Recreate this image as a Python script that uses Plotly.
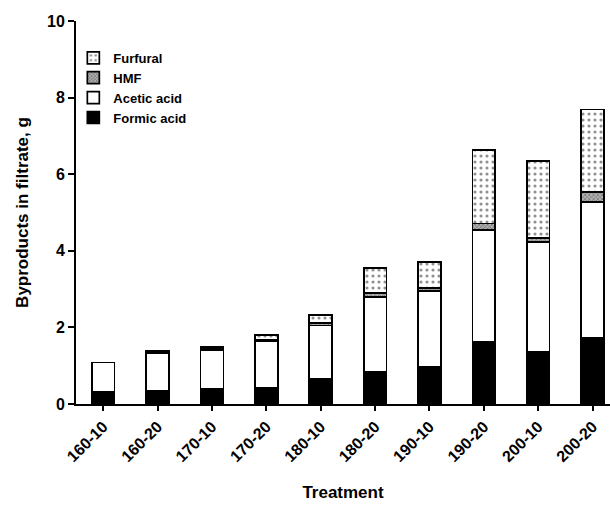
import plotly.graph_objects as go

# Treatment labels (temperature-time)
treatments = ["160-10", "160-20", "170-10", "170-20", "180-10",
              "180-20", "190-10", "190-20", "200-10", "200-20"]

# Byproduct masses in filtrate, g
formic_acid = [0.33, 0.35, 0.39, 0.43, 0.65, 0.85, 0.98, 1.61, 1.36, 1.74]
acetic_acid = [0.75, 0.97, 1.01, 1.22, 1.40, 1.95, 1.97, 2.94, 2.87, 3.54]
hmf         = [0.00, 0.02, 0.03, 0.03, 0.06, 0.09, 0.07, 0.16, 0.11, 0.26]
furfural    = [0.00, 0.05, 0.05, 0.12, 0.21, 0.66, 0.68, 1.93, 2.00, 2.15]

y_ticks = [0, 2, 4, 6, 8, 10]

FONT = "Liberation Sans, Arial, sans-serif"
line = dict(color="black", width=1.7)
bar_w = 0.42

fig = go.Figure()
fig.add_trace(go.Bar(
    name="Formic acid", x=treatments, y=formic_acid, width=bar_w,
    marker=dict(color="black", line=line)))
fig.add_trace(go.Bar(
    name="Acetic acid", x=treatments, y=acetic_acid, width=bar_w,
    marker=dict(color="white", line=line)))
fig.add_trace(go.Bar(
    name="HMF", x=treatments, y=hmf, width=bar_w,
    marker=dict(color="#8c8c8c", line=line,
                pattern=dict(shape="x", fgcolor="#3c3c3c", bgcolor="#b0b0b0",
                             size=3, solidity=0.45))))
fig.add_trace(go.Bar(
    name="Furfural", x=treatments, y=furfural, width=bar_w,
    marker=dict(color="white", line=line,
                pattern=dict(shape=".", fgcolor="#222222", bgcolor="white",
                             size=6, solidity=0.22))))

fig.update_layout(
    width=610, height=510,
    barmode="stack",
    paper_bgcolor="white", plot_bgcolor="white",
    margin=dict(l=76, r=0, t=21, b=106),
    font=dict(family=FONT, size=16, color="black", weight="bold"),
    showlegend=True,
    legend=dict(
        x=-0.005, y=0.943, xanchor="left", yanchor="top",
        traceorder="reversed",
        font=dict(family=FONT, size=13, color="black", weight="bold"),
        bgcolor="rgba(0,0,0,0)",
        itemwidth=30, tracegroupgap=0,
    ),
    xaxis=dict(
        range=[-0.5, 9.32],
        showline=True, linecolor="black", linewidth=2,
        ticks="outside", ticklen=5, tickwidth=1.5, tickcolor="black",
        tickangle=-45,
        tickfont=dict(family=FONT, size=16, color="black", weight="bold"),
        title=dict(text="Treatment", standoff=22,
                   font=dict(family=FONT, size=17, color="black", weight="bold")),
        showgrid=False, zeroline=False,
    ),
    yaxis=dict(
        range=[0, 10],
        tickvals=y_ticks,
        showline=True, linecolor="black", linewidth=2,
        ticks="outside", ticklen=6, tickwidth=1.5, tickcolor="black",
        tickfont=dict(family=FONT, size=16, color="black", weight="bold"),
        title=dict(text="Byproducts in filtrate, g", standoff=14,
                   font=dict(family=FONT, size=17, color="black", weight="bold")),
        showgrid=False, zeroline=False,
    ),
)

fig.write_html("out.html")
